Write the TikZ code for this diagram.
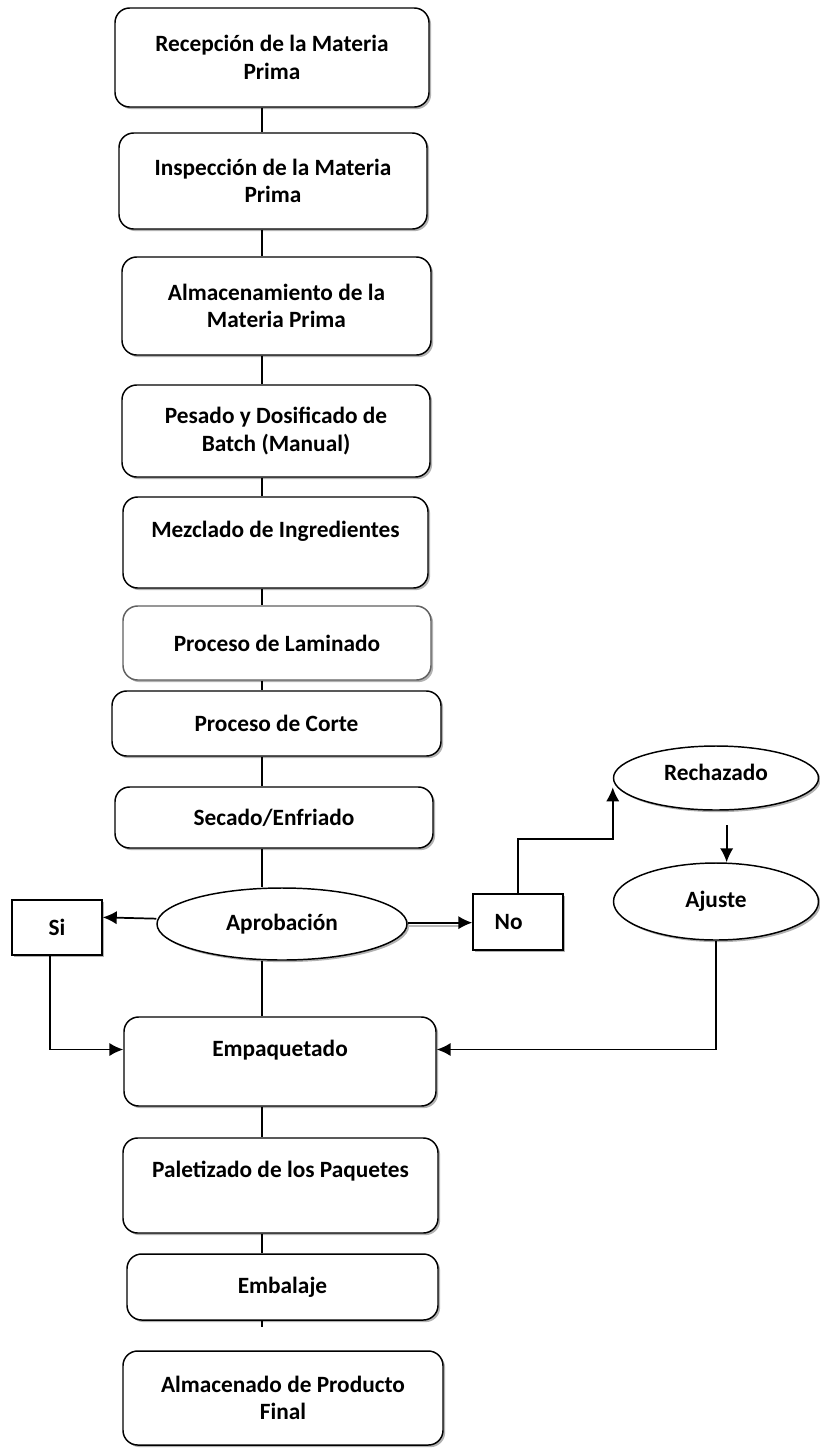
\documentclass[tikz,border=0pt]{standalone}
\usepackage{fontspec}
\setmainfont{Carlito}
\usetikzlibrary{shapes.geometric,shadows,arrows.meta}

\tikzset{
  paso/.style 2 args={draw, line width=1.1pt, rounded corners=11pt, fill=white,
    align=center, font=\bfseries\fontsize{17.5}{20.5}\selectfont,
    minimum width=#1*0.75pt, minimum height=#2*0.75pt,
    drop shadow={shadow xshift=1.6pt, shadow yshift=-1.6pt, fill=gray!60, opacity=1}},
  caja/.style 2 args={paso={#1}{#2}, rounded corners=0pt},
  elipse/.style 2 args={paso={#1}{#2}, ellipse, inner sep=0pt},
  linea/.style={line width=0.9pt},
  flecha/.style={line width=1.3pt, -{Latex[length=10.5pt,width=10pt]}}
}

\begin{document}
\begin{tikzpicture}[x=0.75pt,y=-0.75pt]
\useasboundingbox (0,0) rectangle (819,1450);
\coordinate (eje) at (262,0);

\node[paso={314}{99}] (rec) at (272,57.5) {Recepción de la Materia\\Prima};
\node[paso={308}{96}] (ins) at (273,181) {Inspección de la Materia\\Prima};
\node[paso={309}{98}] (alm) at (276.5,306) {Almacenamiento de la\\Materia Prima};
\node[paso={308}{92}] (pes) at (276,431) {Pesado y Dosificado de\\Batch (Manual)};
\node[paso={305}{91}] (mez) at (275.5,542.5) {Mezclado de Ingredientes\\~};
\node[paso={308}{74}, draw=gray!75!black] (lam) at (277,643) {Proceso de Laminado};
\node[paso={329}{65}] (cor) at (276.5,723.5) {Proceso de Corte};
\node[paso={318}{61}] (sec) at (274,817.5) {Secado/Enfriado};
\node[elipse={250}{72}] (apr) at (282,924) {Aprobación};
\node[caja={90}{55}] (si) at (57,927.5) {Si};
\node[caja={90}{56}] (no) at (518,922) {No\hspace{14pt}};
\node[elipse={205}{64}] (rech) at (716,778) {Rechazado\\[-11.5pt]~};
\node[elipse={205}{77}] (aju) at (716,901.5) {Ajuste};
\node[paso={312}{89}] (emp) at (280,1061.5) {Empaquetado\\~};
\node[paso={315}{95}] (pal) at (280.5,1185.5) {Paletizado de los Paquetes\\[4pt]~};
\node[paso={311}{66}] (emb) at (282.5,1287) {Embalaje};
\node[paso={320}{94}] (alf) at (283,1398) {Almacenado de Producto\\Final};
\coordinate (cola) at (262,1327);

% linea principal
\draw[linea] (rec.south -| eje) -- (ins.north -| eje);
\draw[linea] (ins.south -| eje) -- (alm.north -| eje);
\draw[linea] (alm.south -| eje) -- (pes.north -| eje);
\draw[linea] (pes.south -| eje) -- (mez.north -| eje);
\draw[linea] (mez.south -| eje) -- (lam.north -| eje);
\draw[linea] (lam.south -| eje) -- (cor.north -| eje);
\draw[linea] (cor.south -| eje) -- (sec.north -| eje);
\draw[linea] (sec.south -| eje) -- (apr.north -| eje);
\draw[linea] (apr.south -| eje) -- (emp.north -| eje);
\draw[linea] (emp.south -| eje) -- (pal.north -| eje);
\draw[linea] (pal.south -| eje) -- (emb.north -| eje);
\draw[linea] (emb.south -| eje) -- (cola);

% decision
\draw[flecha] ([yshift=4pt]apr.west) -- ([yshift=5pt]si.east |- apr.west);
\draw[gray!55, line width=1.6pt] ([yshift=-1.2pt]apr.east) -- ([xshift=-8pt,yshift=-1.2pt]no.west |- apr.east);
\draw[flecha] ([yshift=1pt]apr.east) -- ([yshift=1pt]no.west |- apr.east);
\draw[flecha] (no.north) -- ++(0,-54) -| ([yshift=-7pt]rech.west);
\draw[flecha] ([xshift=8pt,yshift=-11pt]rech.south) -- ([xshift=8pt]aju.north);
\draw[flecha] ([xshift=-5pt]si.south) |- ([yshift=9pt]emp.west);
\draw[flecha] (aju.south) |- ([yshift=9pt]emp.east);
\end{tikzpicture}
\end{document}
